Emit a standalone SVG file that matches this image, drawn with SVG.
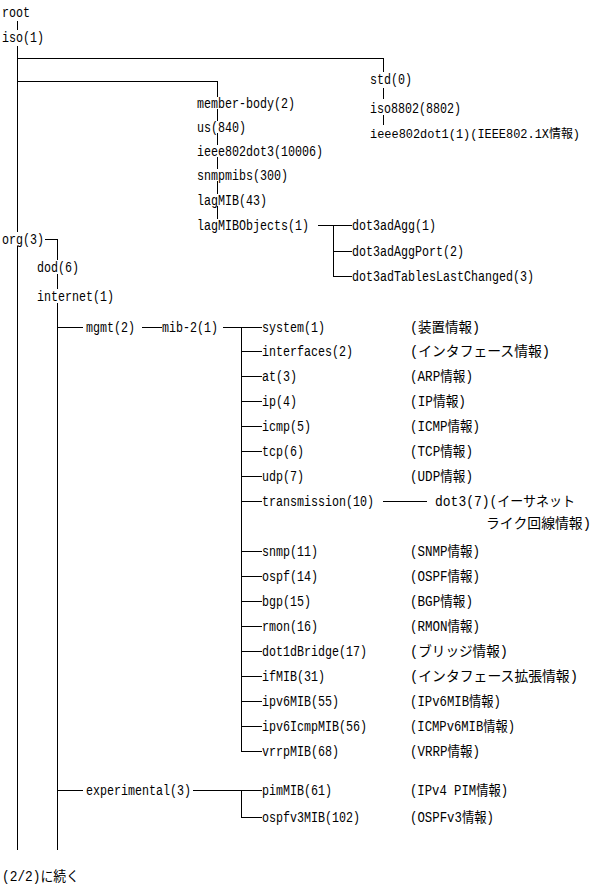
<svg xmlns="http://www.w3.org/2000/svg" width="596" height="887" viewBox="0 0 596 887">
<style>
  .t { font-family: 'Liberation Mono', 'Noto Sans CJK JP', monospace; font-size: 14px; fill: #000; }
  .c { stroke: #000; stroke-width: 1; fill: none; shape-rendering: crispEdges; }
</style>
<rect width="596" height="887" fill="#fff"/>
<g id="connectors" class="c">
  <path d="M17.5 21V30"/>
  <path d="M17.5 46V232"/>
  <path d="M17.5 246V850"/>
  <path d="M17 58.5H383.5V72"/>
  <path d="M383.5 88V99"/>
  <path d="M383.5 115V125"/>
  <path d="M17 81.5H217.5V97"/>
  <path d="M217.5 109V121"/>
  <path d="M217.5 133V145"/>
  <path d="M217.5 157V169"/>
  <path d="M217.5 181V194"/>
  <path d="M217.5 206V219"/>
  <path d="M318 225.5H352"/>
  <path d="M333.5 225V276.5H352"/>
  <path d="M333 251.5H352"/>
  <path d="M45 239.5H57.5V260"/>
  <path d="M57.5 274V289"/>
  <path d="M57.5 303V850"/>
  <path d="M57 327.5H83"/>
  <path d="M142 327.5H162"/>
  <path d="M223 327.5H262"/>
  <path d="M241.5 327V751.5H262"/>
  <path d="M241 351.5H262"/>
  <path d="M241 376.5H262"/>
  <path d="M241 401.5H262"/>
  <path d="M241 426.5H262"/>
  <path d="M241 451.5H262"/>
  <path d="M241 476.5H262"/>
  <path d="M241 501.5H262"/>
  <path d="M383 501.5H427"/>
  <path d="M241 551.5H262"/>
  <path d="M241 576.5H262"/>
  <path d="M241 601.5H262"/>
  <path d="M241 626.5H262"/>
  <path d="M241 651.5H262"/>
  <path d="M241 676.5H262"/>
  <path d="M241 701.5H262"/>
  <path d="M241 726.5H262"/>
  <path d="M57 790.5H83"/>
  <path d="M193 790.5H262"/>
  <path d="M241.5 790V817.5H262"/>
</g>
<g id="root"><text class="t" x="2" y="17" textLength="28" lengthAdjust="spacingAndGlyphs">root</text></g>
<g id="iso"><text class="t" x="2" y="42" textLength="42" lengthAdjust="spacingAndGlyphs">iso(1)</text></g>
<g id="std"><text class="t" x="370" y="84" textLength="42" lengthAdjust="spacingAndGlyphs">std(0)</text></g>
<g id="iso8802"><text class="t" x="370" y="113" textLength="91" lengthAdjust="spacingAndGlyphs">iso8802(8802)</text></g>
<g id="ieee802dot1"><text class="t" x="370" y="138" style="font-size:12.5px" textLength="210" lengthAdjust="spacingAndGlyphs">ieee802dot1(1)(IEEE802.1X情報)</text></g>
<g id="member-body"><text class="t" x="197" y="108" textLength="98" lengthAdjust="spacingAndGlyphs">member-body(2)</text></g>
<g id="us"><text class="t" x="197" y="132" textLength="49" lengthAdjust="spacingAndGlyphs">us(840)</text></g>
<g id="ieee802dot3"><text class="t" x="197" y="156" textLength="126" lengthAdjust="spacingAndGlyphs">ieee802dot3(10006)</text></g>
<g id="snmpmibs"><text class="t" x="197" y="180" textLength="91" lengthAdjust="spacingAndGlyphs">snmpmibs(300)</text></g>
<g id="lagMIB"><text class="t" x="197" y="205" textLength="70" lengthAdjust="spacingAndGlyphs">lagMIB(43)</text></g>
<g id="lagMIBObjects"><text class="t" x="197" y="230" textLength="112" lengthAdjust="spacingAndGlyphs">lagMIBObjects(1)</text></g>
<g id="dot3adAgg"><text class="t" x="352" y="230" textLength="84" lengthAdjust="spacingAndGlyphs">dot3adAgg(1)</text></g>
<g id="dot3adAggPort"><text class="t" x="352" y="256" textLength="112" lengthAdjust="spacingAndGlyphs">dot3adAggPort(2)</text></g>
<g id="dot3adTablesLastChanged"><text class="t" x="352" y="281" textLength="182" lengthAdjust="spacingAndGlyphs">dot3adTablesLastChanged(3)</text></g>
<g id="org"><text class="t" x="2" y="244" textLength="42" lengthAdjust="spacingAndGlyphs">org(3)</text></g>
<g id="dod"><text class="t" x="37" y="272" textLength="42" lengthAdjust="spacingAndGlyphs">dod(6)</text></g>
<g id="internet"><text class="t" x="37" y="301" textLength="77" lengthAdjust="spacingAndGlyphs">internet(1)</text></g>
<g id="mgmt"><text class="t" x="86" y="332" textLength="49" lengthAdjust="spacingAndGlyphs">mgmt(2)</text></g>
<g id="mib-2"><text class="t" x="162" y="332" textLength="56" lengthAdjust="spacingAndGlyphs">mib-2(1)</text></g>
<g id="system"><text class="t" x="262" y="332" textLength="63" lengthAdjust="spacingAndGlyphs">system(1)</text><text class="t" x="410" y="332" textLength="70" lengthAdjust="spacingAndGlyphs">(装置情報)</text></g>
<g id="interfaces"><text class="t" x="262" y="356" textLength="91" lengthAdjust="spacingAndGlyphs">interfaces(2)</text><text class="t" x="410" y="356" textLength="140" lengthAdjust="spacingAndGlyphs">(インタフェース情報)</text></g>
<g id="at"><text class="t" x="262" y="381" textLength="35" lengthAdjust="spacingAndGlyphs">at(3)</text><text class="t" x="410" y="381" textLength="63" lengthAdjust="spacingAndGlyphs">(ARP情報)</text></g>
<g id="ip"><text class="t" x="262" y="406" textLength="35" lengthAdjust="spacingAndGlyphs">ip(4)</text><text class="t" x="410" y="406" textLength="56" lengthAdjust="spacingAndGlyphs">(IP情報)</text></g>
<g id="icmp"><text class="t" x="262" y="431" textLength="49" lengthAdjust="spacingAndGlyphs">icmp(5)</text><text class="t" x="410" y="431" textLength="70" lengthAdjust="spacingAndGlyphs">(ICMP情報)</text></g>
<g id="tcp"><text class="t" x="262" y="456" textLength="42" lengthAdjust="spacingAndGlyphs">tcp(6)</text><text class="t" x="410" y="456" textLength="63" lengthAdjust="spacingAndGlyphs">(TCP情報)</text></g>
<g id="udp"><text class="t" x="262" y="481" textLength="42" lengthAdjust="spacingAndGlyphs">udp(7)</text><text class="t" x="410" y="481" textLength="63" lengthAdjust="spacingAndGlyphs">(UDP情報)</text></g>
<g id="transmission"><text class="t" x="262" y="506" textLength="112" lengthAdjust="spacingAndGlyphs">transmission(10)</text></g>
<g id="dot3"><text class="t" x="435" y="506" textLength="140" lengthAdjust="spacingAndGlyphs">dot3(7)(イーサネット</text><text class="t" x="486" y="528" textLength="105" lengthAdjust="spacingAndGlyphs">ライク回線情報)</text></g>
<g id="snmp"><text class="t" x="262" y="556" textLength="56" lengthAdjust="spacingAndGlyphs">snmp(11)</text><text class="t" x="410" y="556" textLength="70" lengthAdjust="spacingAndGlyphs">(SNMP情報)</text></g>
<g id="ospf"><text class="t" x="262" y="581" textLength="56" lengthAdjust="spacingAndGlyphs">ospf(14)</text><text class="t" x="410" y="581" textLength="70" lengthAdjust="spacingAndGlyphs">(OSPF情報)</text></g>
<g id="bgp"><text class="t" x="262" y="606" textLength="49" lengthAdjust="spacingAndGlyphs">bgp(15)</text><text class="t" x="410" y="606" textLength="63" lengthAdjust="spacingAndGlyphs">(BGP情報)</text></g>
<g id="rmon"><text class="t" x="262" y="631" textLength="56" lengthAdjust="spacingAndGlyphs">rmon(16)</text><text class="t" x="410" y="631" textLength="70" lengthAdjust="spacingAndGlyphs">(RMON情報)</text></g>
<g id="dot1dBridge"><text class="t" x="262" y="656" textLength="105" lengthAdjust="spacingAndGlyphs">dot1dBridge(17)</text><text class="t" x="410" y="656" textLength="98" lengthAdjust="spacingAndGlyphs">(ブリッジ情報)</text></g>
<g id="ifMIB"><text class="t" x="262" y="681" textLength="63" lengthAdjust="spacingAndGlyphs">ifMIB(31)</text><text class="t" x="410" y="681" textLength="168" lengthAdjust="spacingAndGlyphs">(インタフェース拡張情報)</text></g>
<g id="ipv6MIB"><text class="t" x="262" y="706" textLength="77" lengthAdjust="spacingAndGlyphs">ipv6MIB(55)</text><text class="t" x="410" y="706" textLength="91" lengthAdjust="spacingAndGlyphs">(IPv6MIB情報)</text></g>
<g id="ipv6IcmpMIB"><text class="t" x="262" y="731" textLength="105" lengthAdjust="spacingAndGlyphs">ipv6IcmpMIB(56)</text><text class="t" x="410" y="731" textLength="105" lengthAdjust="spacingAndGlyphs">(ICMPv6MIB情報)</text></g>
<g id="vrrpMIB"><text class="t" x="262" y="756" textLength="77" lengthAdjust="spacingAndGlyphs">vrrpMIB(68)</text><text class="t" x="410" y="756" textLength="70" lengthAdjust="spacingAndGlyphs">(VRRP情報)</text></g>
<g id="experimental"><text class="t" x="86" y="795" textLength="105" lengthAdjust="spacingAndGlyphs">experimental(3)</text></g>
<g id="pimMIB"><text class="t" x="262" y="795" textLength="70" lengthAdjust="spacingAndGlyphs">pimMIB(61)</text><text class="t" x="410" y="795" textLength="98" lengthAdjust="spacingAndGlyphs">(IPv4 PIM情報)</text></g>
<g id="ospfv3MIB"><text class="t" x="262" y="822" textLength="98" lengthAdjust="spacingAndGlyphs">ospfv3MIB(102)</text><text class="t" x="410" y="822" textLength="84" lengthAdjust="spacingAndGlyphs">(OSPFv3情報)</text></g>
<g id="continued"><text class="t" x="2" y="881" textLength="77" lengthAdjust="spacingAndGlyphs">(2/2)に続く</text></g>
</svg>
